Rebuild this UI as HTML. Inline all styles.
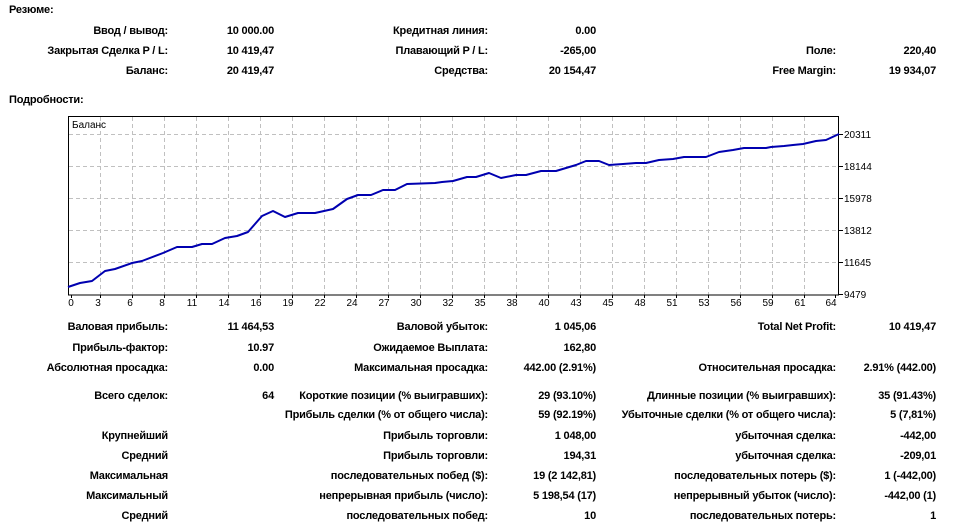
<!DOCTYPE html>
<html><head><meta charset="utf-8"><style>
body{margin:0;width:956px;height:527px;background:#fff;position:relative;overflow:hidden;font-family:"Liberation Sans","DejaVu Sans",sans-serif;font-size:11px;font-weight:bold;color:#000}
.t{position:absolute;white-space:nowrap;line-height:12px;letter-spacing:-0.2px}
.r{transform:translateX(-100%)}
svg{position:absolute;left:0;top:0}
</style></head><body>
<div class="t" style="left:9px;top:4px">Резюме:</div>
<div class="t r" style="left:168px;top:25px">Ввод / вывод:</div>
<div class="t r" style="left:274px;top:25px">10 000.00</div>
<div class="t r" style="left:488px;top:25px">Кредитная линия:</div>
<div class="t r" style="left:596px;top:25px">0.00</div>
<div class="t r" style="left:168px;top:45px">Закрытая Сделка P / L:</div>
<div class="t r" style="left:274px;top:45px">10 419,47</div>
<div class="t r" style="left:488px;top:45px">Плавающий P / L:</div>
<div class="t r" style="left:596px;top:45px">-265,00</div>
<div class="t r" style="left:836px;top:45px">Поле:</div>
<div class="t r" style="left:936px;top:45px">220,40</div>
<div class="t r" style="left:168px;top:65px">Баланс:</div>
<div class="t r" style="left:274px;top:65px">20 419,47</div>
<div class="t r" style="left:488px;top:65px">Средства:</div>
<div class="t r" style="left:596px;top:65px">20 154,47</div>
<div class="t r" style="left:836px;top:65px">Free Margin:</div>
<div class="t r" style="left:936px;top:65px">19 934,07</div>
<div class="t" style="left:9px;top:94px">Подробности:</div>

<svg width="956" height="527" xmlns="http://www.w3.org/2000/svg">
<g stroke="#c0c0c0" stroke-dasharray="4,3" stroke-width="1">
<path d="M100.5 117V295M132.5 117V295M164.5 117V295M196.5 117V295M228.5 117V295M260.5 117V295M292.5 117V295M324.5 117V295M356.5 117V295M388.5 117V295M420.5 117V295M452.5 117V295M484.5 117V295M516.5 117V295M548.5 117V295M580.5 117V295M612.5 117V295M644.5 117V295M676.5 117V295M708.5 117V295M740.5 117V295M772.5 117V295M804.5 117V295"/>
<path d="M69 134.5H839M69 166.5H839M69 198.5H839M69 230.5H839M69 262.5H839"/>
</g>
<rect x="68.5" y="116.5" width="770" height="178.5" fill="none" stroke="#000"/>
<g stroke="#000"><path d="M839 134.5h4M839 166.5h4M839 198.5h4M839 230.5h4M839 262.5h4M839 294.5h4"/>
<path d="M71.5 295v3M100.5 295v3M132.5 295v3M164.5 295v3M196.5 295v3M228.5 295v3M260.5 295v3M292.5 295v3M324.5 295v3M356.5 295v3M388.5 295v3M420.5 295v3M452.5 295v3M484.5 295v3M516.5 295v3M548.5 295v3M580.5 295v3M612.5 295v3M644.5 295v3M676.5 295v3M708.5 295v3M740.5 295v3M772.5 295v3M804.5 295v3M835.5 295v3"/></g>
<polyline fill="none" stroke="#0000b0" stroke-width="2" stroke-linejoin="round" points="68,287 80,283 92,281 105,271 115,269 132,263 142,261 163,253 177,247 192,247 202,244 212,244 225,238 237,236 248,232 262,216 273,211 285,217 298,213 315,213 333,209 347,199 358,195 371,195 383,190 395,190 407,184 435,183 442,182 453,181 467,177 476,177 489,173 501,178 516,175 526,175 541,171 556,171 576,165 586,161 599,161 609,165 623,164 636,163 646,163 659,160 673,159 684,157 706,157 719,152 733,150 744,148 766,148 771,147 784,146 793,145 803,144 816,141 826,140 839,134"/>
<g font-family="Liberation Sans, sans-serif" font-size="10" font-weight="normal" fill="#000">
<text x="72" y="128">Баланс</text>
<g text-anchor="start"><text x="844" y="138">20311</text><text x="844" y="170">18144</text><text x="844" y="202">15978</text><text x="844" y="234">13812</text><text x="844" y="266">11645</text><text x="844" y="298">9479</text></g>
<g text-anchor="middle">
<text x="71" y="306">0</text><text x="98" y="306">3</text><text x="130" y="306">6</text><text x="162" y="306">8</text><text x="192" y="306">11</text><text x="224" y="306">14</text><text x="256" y="306">16</text><text x="288" y="306">19</text><text x="320" y="306">22</text><text x="352" y="306">24</text><text x="384" y="306">27</text><text x="416" y="306">30</text><text x="448" y="306">32</text><text x="480" y="306">35</text><text x="512" y="306">38</text><text x="544" y="306">40</text><text x="576" y="306">43</text><text x="608" y="306">45</text><text x="640" y="306">48</text><text x="672" y="306">51</text><text x="704" y="306">53</text><text x="736" y="306">56</text><text x="768" y="306">59</text><text x="800" y="306">61</text><text x="831" y="306">64</text>
</g></g>
</svg>

<div class="t r" style="left:168px;top:321px">Валовая прибыль:</div>
<div class="t r" style="left:274px;top:321px">11 464,53</div>
<div class="t r" style="left:488px;top:321px">Валовой убыток:</div>
<div class="t r" style="left:596px;top:321px">1 045,06</div>
<div class="t r" style="left:836px;top:321px">Total Net Profit:</div>
<div class="t r" style="left:936px;top:321px">10 419,47</div>
<div class="t r" style="left:168px;top:342px">Прибыль-фактор:</div>
<div class="t r" style="left:274px;top:342px">10.97</div>
<div class="t r" style="left:488px;top:342px">Ожидаемое Выплата:</div>
<div class="t r" style="left:596px;top:342px">162,80</div>
<div class="t r" style="left:168px;top:362px">Абсолютная просадка:</div>
<div class="t r" style="left:274px;top:362px">0.00</div>
<div class="t r" style="left:488px;top:362px">Максимальная просадка:</div>
<div class="t r" style="left:596px;top:362px">442.00 (2.91%)</div>
<div class="t r" style="left:836px;top:362px">Относительная просадка:</div>
<div class="t r" style="left:936px;top:362px">2.91% (442.00)</div>
<div class="t r" style="left:168px;top:390px">Всего сделок:</div>
<div class="t r" style="left:274px;top:390px">64</div>
<div class="t r" style="left:488px;top:390px">Короткие позиции (% выигравших):</div>
<div class="t r" style="left:596px;top:390px">29 (93.10%)</div>
<div class="t r" style="left:836px;top:390px">Длинные позиции (% выигравших):</div>
<div class="t r" style="left:936px;top:390px">35 (91.43%)</div>
<div class="t r" style="left:488px;top:409px">Прибыль сделки (% от общего числа):</div>
<div class="t r" style="left:596px;top:409px">59 (92.19%)</div>
<div class="t r" style="left:836px;top:409px">Убыточные сделки (% от общего числа):</div>
<div class="t r" style="left:936px;top:409px">5 (7,81%)</div>
<div class="t r" style="left:168px;top:430px">Крупнейший</div>
<div class="t r" style="left:488px;top:430px">Прибыль торговли:</div>
<div class="t r" style="left:596px;top:430px">1 048,00</div>
<div class="t r" style="left:836px;top:430px">убыточная сделка:</div>
<div class="t r" style="left:936px;top:430px">-442,00</div>
<div class="t r" style="left:168px;top:450px">Средний</div>
<div class="t r" style="left:488px;top:450px">Прибыль торговли:</div>
<div class="t r" style="left:596px;top:450px">194,31</div>
<div class="t r" style="left:836px;top:450px">убыточная сделка:</div>
<div class="t r" style="left:936px;top:450px">-209,01</div>
<div class="t r" style="left:168px;top:470px">Максимальная</div>
<div class="t r" style="left:488px;top:470px">последовательных побед ($):</div>
<div class="t r" style="left:596px;top:470px">19 (2 142,81)</div>
<div class="t r" style="left:836px;top:470px">последовательных потерь ($):</div>
<div class="t r" style="left:936px;top:470px">1 (-442,00)</div>
<div class="t r" style="left:168px;top:490px">Максимальный</div>
<div class="t r" style="left:488px;top:490px">непрерывная прибыль (число):</div>
<div class="t r" style="left:596px;top:490px">5 198,54 (17)</div>
<div class="t r" style="left:836px;top:490px">непрерывный убыток (число):</div>
<div class="t r" style="left:936px;top:490px">-442,00 (1)</div>
<div class="t r" style="left:168px;top:510px">Средний</div>
<div class="t r" style="left:488px;top:510px">последовательных побед:</div>
<div class="t r" style="left:596px;top:510px">10</div>
<div class="t r" style="left:836px;top:510px">последовательных потерь:</div>
<div class="t r" style="left:936px;top:510px">1</div>
</body></html>
